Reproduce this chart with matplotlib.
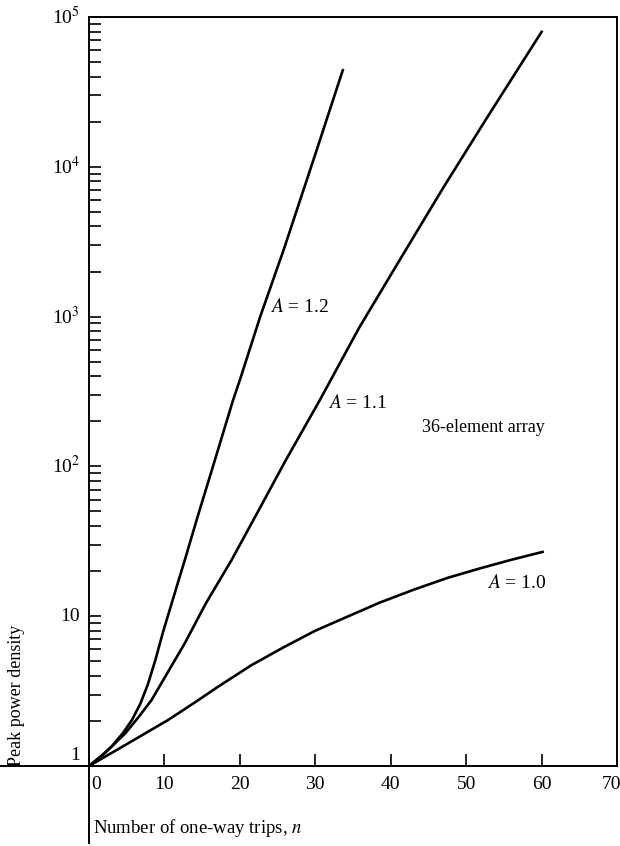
import matplotlib
matplotlib.use("Agg")
import matplotlib.pyplot as plt
from matplotlib.ticker import LogLocator, FixedLocator, NullFormatter

plt.rcParams['font.family'] = ['Liberation Serif', 'DejaVu Serif']
plt.rcParams['mathtext.fontset'] = 'stix'

# Data
n_12 = [0, 1.5, 3.0, 4.5, 5.7, 6.8, 7.8, 8.8, 9.8, 11.9, 12.7, 14.5, 16.3, 19.1, 20.0, 22.7, 25.8, 30.2, 33.7]
p_12 = [1, 1.15, 1.35, 1.66, 2.03, 2.6, 3.5, 5.1, 7.8, 17.5, 23.7, 48, 95, 277, 377, 1000, 2785, 1.3e4, 4.5e4]

n_11 = [0, 2.1, 4.8, 6.5, 8.3, 10.5, 12.7, 15.5, 18.9, 22.5, 26.0, 30.6, 35.8, 41.2, 47.0, 52.8, 60.1]
p_11 = [1, 1.22, 1.65, 2.1, 2.76, 4.27, 6.6, 12.2, 23.7, 51, 108, 277, 840, 2390, 7300, 2.14e4, 8.1e4]

n_10 = [0, 4.8, 10.5, 14.0, 17.1, 21.5, 25.8, 30.0, 34.2, 38.5, 43.0, 47.5, 51.9, 56.0, 60.3]
p_10 = [1, 1.38, 2.03, 2.65, 3.38, 4.7, 6.2, 8.0, 9.9, 12.3, 15.0, 18.0, 20.9, 23.8, 27.0]

x_ticks = [10, 20, 30, 40, 50, 60]
x_labels = ['0', '10', '20', '30', '40', '50', '60', '70']
y_major = [1, 10, 100, 1000, 1e4, 1e5]
y_labels = ['1', '10', r'10$^2$', r'10$^3$', r'10$^4$', r'10$^5$']

W, H = 620, 846
fig = plt.figure(figsize=(W / 100, H / 100), dpi=100)
L, R, T, B = 89, 617, 17, 766
ax = fig.add_axes([L / W, 1 - B / H, (R - L) / W, (B - T) / H])

lw = 1.9
for nn, pp in [(n_12, p_12), (n_11, p_11), (n_10, p_10)]:
    ax.plot(nn, pp, color='black', lw=lw, solid_capstyle='butt', solid_joinstyle='round')

ax.set_yscale('log')
ax.set_xlim(0, 70)
ax.set_ylim(1, 1e5)

for s in ax.spines.values():
    s.set_linewidth(1.4)
    s.set_color('black')

ax.xaxis.set_major_locator(FixedLocator(x_ticks))
ax.xaxis.set_major_formatter(NullFormatter())
ax.tick_params(axis='x', direction='in', length=8.5, width=1.2)
ylab_off = -(784 - B) / (B - T)
for i, lab in enumerate(x_labels):
    xv = i * 10
    if i == 0:
        xv += 0.9
    if i == len(x_labels) - 1:
        xv -= 0.7
    ax.text(xv, ylab_off, lab, transform=ax.get_xaxis_transform(), ha='center', va='center',
            fontsize=14)

ax.yaxis.set_major_locator(FixedLocator(y_major))
ax.yaxis.set_minor_locator(LogLocator(base=10, subs=range(2, 10), numticks=20))
ax.yaxis.set_major_formatter(NullFormatter())
ax.yaxis.set_minor_formatter(NullFormatter())
ax.tick_params(axis='y', which='both', direction='in', length=8.5, width=1.2)
for yv, lab in zip(y_major, y_labels):
    ax.annotate(lab, xy=(0, yv), xycoords=('axes fraction', 'data'),
                xytext=(-9, 11 if yv == 1 else 0), textcoords='offset pixels',
                ha='right', va='center', fontsize=14)

# extended axis lines
ax.plot([-L / (R - L), 0], [0, 0], transform=ax.transAxes, color='black', lw=1.4, clip_on=False)
ax.plot([0, 0], [0, -(843 - B) / (B - T)], transform=ax.transAxes, color='black', lw=1.4, clip_on=False)

ax.text(24.0, 1160, r'$A$ = 1.2', fontsize=14, va='center', ha='left')
ax.text(31.7, 265, r'$A$ = 1.1', fontsize=14, va='center', ha='left')
ax.text(44.2, 183, '36-element array', fontsize=13, va='center', ha='left')
ax.text(52.8, 16.6, r'$A$ = 1.0', fontsize=14, va='center', ha='left')

fig.text(93 / W, 1 - 828 / H, r'Number of one-way trips, $n$', fontsize=13.5, ha='left', va='center')
fig.text(17 / W, 1 - 695 / H, 'Peak power density', fontsize=13, rotation=90,
         ha='center', va='center')

fig.savefig('out.png', dpi=100)
